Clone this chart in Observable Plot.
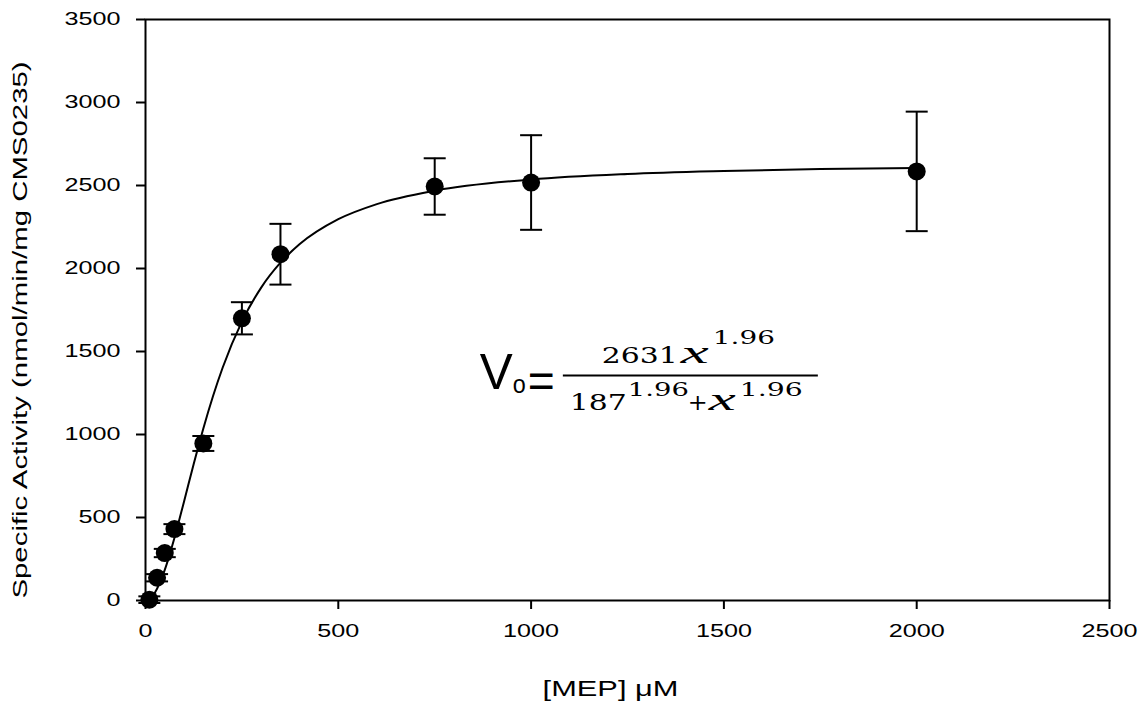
<!DOCTYPE html>
<html>
<head>
<meta charset="utf-8">
<script src="https://cdn.jsdelivr.net/npm/d3@7"></script>
<script src="https://cdn.jsdelivr.net/npm/@observablehq/plot@0.6"></script>
<style>
  html, body { margin: 0; padding: 0; background: #fff; }
  #chart { width: 1144px; height: 703px; }
</style>
</head>
<body>
<div id="chart"></div>
<script>
// ---- data ----
const xTicks = [0, 500, 1000, 1500, 2000, 2500];
const yTicks = [0, 500, 1000, 1500, 2000, 2500, 3000, 3500];

const concentration = [10, 30, 50, 75, 150, 250, 350, 750, 1000, 2000];
const activity      = [5, 137, 286, 430, 946, 1700, 2086, 2494, 2518, 2585];
const errorBar      = [20, 22, 25, 30, 45, 97, 183, 170, 285, 360];

// fitted curve, sampled from the drawn line
const fitConc     = [0, 10, 25, 50, 75, 100, 125, 150, 175, 200, 250, 300, 350, 400, 500, 600, 750, 1000, 1250, 1500, 1750, 2000];
const fitActivity = [0, 8, 50, 184, 376, 597, 822, 1036, 1230, 1402, 1680, 1885, 2035, 2147, 2297, 2388, 2469, 2536, 2569, 2587, 2599, 2606];

const xTitle = "[MEP] \u03BCM";
const yTitle = "Specific Activity (nmol/min/mg CMS0235)";

// ---- tables built from the arrays ----
const points = concentration.map((c, i) => ({x: c, y: activity[i], e: errorBar[i]}));
const fit = fitConc.map((c, i) => ({x: c, y: fitActivity[i]}));
const caps = points.flatMap(d => [{x: d.x, y: d.y - d.e}, {x: d.x, y: d.y + d.e}]);

const capSymbol = {
  draw(context, size) {
    const w = Math.sqrt(size / Math.PI);
    context.moveTo(-w, 0);
    context.lineTo(w, 0);
  }
};

const chart = Plot.plot({
  width: 1144,
  height: 703,
  marginLeft: 145,
  marginRight: 35,
  marginTop: 19,
  marginBottom: 103,
  style: {fontFamily: "'Liberation Sans', Arial, sans-serif", color: "#000", background: "#fff"},
  x: {domain: [0, 2500]},
  y: {domain: [0, 3500]},
  marks: [
    Plot.axisX({ticks: xTicks, tickSize: 9, tickPadding: 15, tickFormat: d => String(d), label: null, fontSize: 18, strokeWidth: 2}),
    Plot.axisY({ticks: yTicks, tickSize: 9, tickPadding: 16, tickFormat: d => String(d), label: null, fontSize: 18, strokeWidth: 2}),
    Plot.text([xTitle], {frameAnchor: "bottom", dy: 88, dx: -17, fontSize: 22, textAnchor: "middle", lineAnchor: "middle", text: d => d}),
    Plot.text([yTitle], {frameAnchor: "left", rotate: -90, dx: -125, dy: 20, fontSize: 21, textAnchor: "middle", lineAnchor: "middle", text: d => d}),
    Plot.line(fit, {x: "x", y: "y", stroke: "#000", strokeWidth: 2, curve: "monotone-x"}),
    Plot.ruleX(points, {x: "x", y1: d => d.y - d.e, y2: d => d.y + d.e, stroke: "#000", strokeWidth: 2}),
    Plot.dot(caps, {x: "x", y: "y", r: 11, symbol: capSymbol, stroke: "#000", strokeWidth: 2, fill: "none"}),
    Plot.dot(points, {x: "x", y: "y", r: 9, fill: "#000", stroke: "none"}),
    Plot.frame({stroke: "#000", strokeWidth: 2})
  ]
});

document.getElementById("chart").appendChild(chart);

// widen axis text along its direction to match the reference's broad lettering
const k = 1.4;
d3.select(chart).selectAll("text").each(function() {
  const bb = this.getBBox();
  const anchor = getComputedStyle(this).textAnchor;
  const ax = anchor === "middle" ? bb.x + bb.width / 2 : anchor === "end" ? bb.x + bb.width : bb.x;
  const t = this.getAttribute("transform") || "";
  this.setAttribute("transform", `${t} translate(${ax},0) scale(${k},1) translate(${-ax},0)`);
});

// ---- equation annotation, anchored in data space ----
const eqAnchor = {x: 1413, y: 1352};
const X = chart.scale("x").apply(eqAnchor.x);
const Y = chart.scale("y").apply(eqAnchor.y);
const svg = d3.select(chart);
const g = svg.append("g").attr("transform", `translate(${X},${Y})`)
  .attr("fill", "#000").attr("text-anchor", "start");
const sans = "'Liberation Sans', Arial, sans-serif";
const serif = "'DejaVu Serif', serif";
const mathIt = "'Liberation Serif', serif";
const pieces = [
  {t: "V",    x: -210, y: 13, fs: 50, w: 33, f: sans},
  {t: "o",    x: -177, y: 17, fs: 25, w: 13, f: sans},
  {t: "=",    x: -162, y: 21, fs: 48, w: 27, f: sans},
  {t: "2631", x: -88,  y: -13, fs: 23, w: 76, f: serif},
  {t: "x",    x: -9,   y: -13, fs: 31, w: 28, f: mathIt, it: true},
  {t: "1.96", x: 23,   y: -32, fs: 18, w: 62, f: serif},
  {t: "187",  x: -120, y: 34, fs: 23, w: 57, f: serif},
  {t: "1.96", x: -62,  y: 20, fs: 18, w: 61, f: serif},
  {t: "+",    x: -2,   y: 34, fs: 23, w: 20, f: serif},
  {t: "x",    x: 19,   y: 34, fs: 31, w: 27, f: mathIt, it: true},
  {t: "1.96", x: 50,   y: 20, fs: 18, w: 63, f: serif}
];
for (const p of pieces) {
  g.append("text")
    .attr("x", p.x).attr("y", p.y)
    .attr("text-anchor", "start")
    .attr("font-family", p.f).attr("font-size", p.fs)
    .attr("font-style", p.it ? "italic" : "normal")
    .attr("textLength", p.w).attr("lengthAdjust", "spacingAndGlyphs")
    .text(p.t);
}
g.append("line").attr("x1", -127).attr("x2", 128).attr("y1", 0).attr("y2", 0)
  .attr("stroke", "#000").attr("stroke-width", 2);
</script>
</body>
</html>
